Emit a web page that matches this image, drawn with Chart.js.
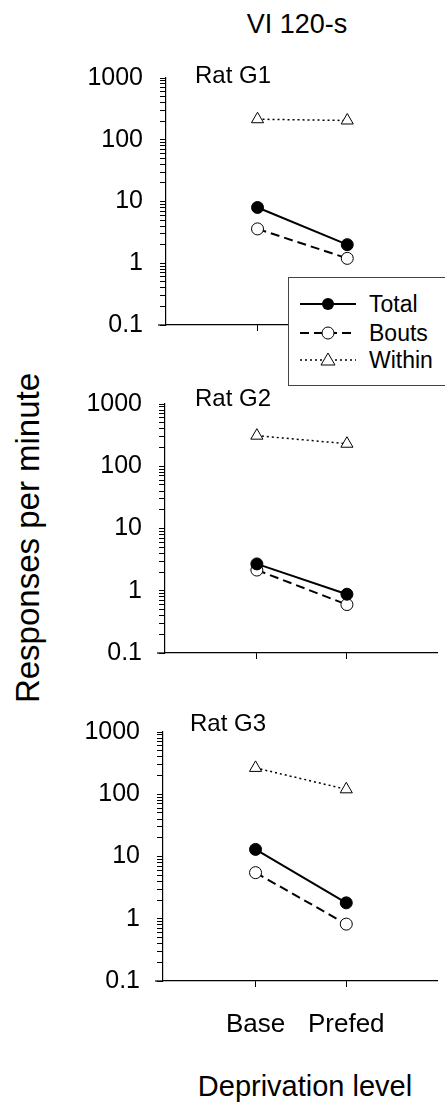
<!DOCTYPE html>
<html><head><meta charset="utf-8">
<script src="https://cdn.jsdelivr.net/npm/chart.js@4"></script>
<style>
html,body{margin:0;padding:0;background:#fff;}
body{width:445px;height:1103px;overflow:hidden;position:relative;font-family:"Liberation Sans",Arial,Helvetica,sans-serif;color:#000;}
canvas{position:absolute;left:0;}
.t{position:absolute;white-space:nowrap;line-height:1;}
#legend{position:absolute;left:288px;top:277px;width:170px;height:107px;border:1px solid #444;background:#fff;}
.row{position:absolute;left:0;height:24px;}
.row svg{position:absolute;left:11px;top:0;}
.row span{position:absolute;left:80px;top:1px;font-size:23px;line-height:1;}
</style></head><body>

<div class="t" style="left:297px;top:11px;font-size:27px;transform:translateX(-50%);">VI 120-s</div>
<div class="t" style="left:27px;top:538px;font-size:33px;transform:translate(-50%,-50%) rotate(-90deg);">Responses per minute</div>
<div class="t" style="left:305px;top:1072px;font-size:29px;transform:translateX(-50%);">Deprivation level</div>

<canvas id="c0"></canvas>
<canvas id="c1"></canvas>
<canvas id="c2"></canvas>

<div class="t" id="p0" style="font-size:24px;"></div>
<div class="t" id="p1" style="font-size:24px;"></div>
<div class="t" id="p2" style="font-size:24px;"></div>

<div id="legend">
  <div class="row" style="top:14px;"><svg width="60" height="24"><line x1="0" y1="12" x2="56" y2="12" stroke="#000" stroke-width="2"/><circle cx="28" cy="12" r="6" fill="#000"/></svg><span>Total</span></div>
  <div class="row" style="top:43px;"><svg width="60" height="24"><line x1="0" y1="12" x2="56" y2="12" stroke="#000" stroke-width="2" stroke-dasharray="9,5"/><circle cx="28" cy="12" r="6" fill="#fff" stroke="#000" stroke-width="1"/></svg><span>Bouts</span></div>
  <div class="row" style="top:70px;"><svg width="60" height="24"><line x1="0" y1="12" x2="56" y2="12" stroke="#000" stroke-width="1.5" stroke-dasharray="2,3"/><polygon points="28,5 35,17 21,17" fill="#fff" stroke="#000" stroke-width="1"/></svg><span>Within</span></div>
</div>

<script>
// ---- data ----
const categories = ['Base', 'Prefed'];
const panelNames = ['Rat G1', 'Rat G2', 'Rat G3'];
const seriesNames = ['Total', 'Bouts', 'Within'];
const totalG1 = [8.0, 2.0];
const boutsG1 = [3.6, 1.2];
const withinG1 = [215, 205];
const totalG2 = [2.7, 0.88];
const boutsG2 = [2.15, 0.6];
const withinG2 = [310, 230];
const totalG3 = [13, 1.8];
const boutsG3 = [5.5, 0.82];
const withinG3 = [265, 120];
const yTickLabels = ['0.1', '1', '10', '100', '1000'];

const panelData = [
  [totalG1, boutsG1, withinG1],
  [totalG2, boutsG2, withinG2],
  [totalG3, boutsG3, withinG3]
];

// ---- layout (page coordinates of each plot area) ----
const boxes = [
  {L:166, R:442, T:76,  B:325, lx:195, ly:63},
  {L:165, R:442, T:402, B:653, lx:195, ly:386},
  {L:163, R:440, T:730, B:981, lx:190, ly:711}
];
const PADTOP = 30, XH = 60;

const FONT = '"Liberation Sans", Arial, Helvetica, sans-serif';

function logTicks() {
  const out = [];
  for (let e = -1; e <= 2; e++) {
    for (let m = 1; m <= 9; m++) out.push({value: Number((m * Math.pow(10, e)).toPrecision(3))});
  }
  out.push({value: 1000});
  return out;
}

// small stub of the x axis running left of the y axis, as in the original
const axisStub = {
  id: 'axisStub',
  afterDraw(chart) {
    const {ctx, chartArea} = chart;
    ctx.save();
    ctx.strokeStyle = '#000';
    ctx.lineWidth = 1.2;
    ctx.beginPath();
    ctx.moveTo(chartArea.left - 8, chartArea.bottom);
    ctx.lineTo(chartArea.left, chartArea.bottom);
    ctx.stroke();
    ctx.restore();
  }
};

const styles = [
  {borderWidth: 2, borderDash: [], pointStyle: 'circle', pointRadius: 6, pointBackgroundColor: '#000'},
  {borderWidth: 2, borderDash: [9, 5], pointStyle: 'circle', pointRadius: 6, pointBackgroundColor: '#fff'},
  {borderWidth: 1.5, borderDash: [2, 3], pointStyle: 'triangle', pointRadius: 7, pointBackgroundColor: '#fff'}
];

panelData.forEach((series, p) => {
  const b = boxes[p];
  const cv = document.getElementById('c' + p);
  const h = b.B - b.T + PADTOP + XH;
  cv.style.top = (b.T - PADTOP) + 'px';
  cv.width = 445; cv.height = h;
  cv.style.width = '445px'; cv.style.height = h + 'px';

  const lab = document.getElementById('p' + p);
  lab.textContent = panelNames[p];
  lab.style.left = b.lx + 'px';
  lab.style.top = b.ly + 'px';

  const showX = p === 2;
  new Chart(cv, {
    type: 'line',
    plugins: [axisStub],
    data: {
      datasets: series.map((vals, i) => ({
        label: seriesNames[i],
        data: vals.map((v, k) => ({x: k + 1, y: v})),
        borderColor: '#000',
        pointBorderColor: '#000',
        pointBorderWidth: 1,
        pointHoverRadius: styles[i].pointRadius,
        fill: false,
        tension: 0,
        clip: false,
        ...styles[i]
      }))
    },
    options: {
      responsive: false,
      animation: false,
      events: [],
      layout: {padding: {left: 0, right: 445 - b.R, top: PADTOP, bottom: 0}},
      plugins: {legend: {display: false}, tooltip: {enabled: false}, title: {display: false}},
      scales: {
        x: {
          type: 'linear',
          min: -0.02, max: 3.0,
          afterBuildTicks: s => { s.ticks = [{value: 1}, {value: 2}]; },
          afterFit: s => { s.height = XH; },
          grid: {drawOnChartArea: false, drawTicks: true, tickLength: 6, color: '#000', lineWidth: 1},
          border: {display: true, color: '#000', width: 1.2},
          ticks: {
            display: true,
            autoSkip: false,
            maxRotation: 0,
            padding: 22,
            color: '#000',
            font: {family: FONT, size: 26},
            callback: v => showX ? (categories[v - 1] || '') : ''
          }
        },
        y: {
          type: 'logarithmic',
          min: 0.1, max: 1000,
          afterBuildTicks: s => { s.ticks = logTicks(); },
          afterFit: s => { s.width = b.L; },
          grid: {drawOnChartArea: false, drawTicks: true, tickLength: 6, color: '#000', lineWidth: 1},
          border: {display: true, color: '#000', width: 1.2},
          ticks: {
            autoSkip: false,
            padding: 17,
            color: '#000',
            font: {family: FONT, size: 25},
            callback: v => {
              const i = [0.1, 1, 10, 100, 1000].indexOf(v);
              return i >= 0 ? yTickLabels[i] : '';
            }
          }
        }
      }
    }
  });
});
</script>
</body></html>
